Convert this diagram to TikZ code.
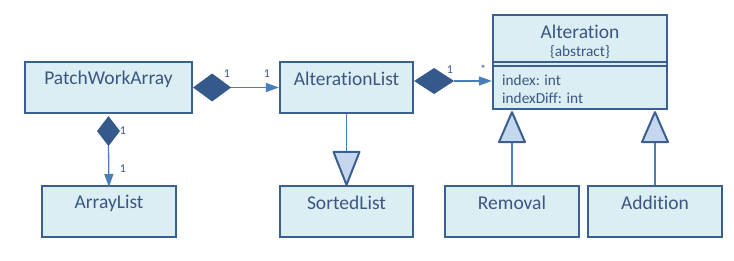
\documentclass[tikz,border=0pt]{standalone}
\usepackage{fontspec}
\setmainfont[Ligatures=NoCommon]{Carlito}
\usetikzlibrary{arrows.meta,calc}
\definecolor{bord}{HTML}{3B5F8F}
\definecolor{boxfill}{HTML}{DBEEF4}
\definecolor{dia}{HTML}{36598C}
\definecolor{trif}{HTML}{C5D7EE}
\definecolor{lin}{HTML}{4A7EBB}
\definecolor{txtc}{HTML}{3B5683}
\tikzset{
  x=1pt,y=-1pt,
  cls/.style={draw=bord,fill=boxfill,line width=2.2pt,rectangle,inner sep=0pt},
  big/.style={text=txtc,font=\fontsize{19.5}{22}\selectfont,inner sep=0pt},
  small/.style={text=txtc,font=\fontsize{15.3}{18}\selectfont,inner sep=0pt},
  mult/.style={text=txtc,font=\fontsize{12}{14}\selectfont,inner sep=0pt},
  assoc/.style={draw=lin,line width=1.3pt,-{Triangle[length=13pt,width=9pt]}},
  genline/.style={draw=lin,line width=1.2pt},
  diafill/.style={fill=dia},
  trist/.style={draw=bord,fill=trif,line width=2pt,line join=round},
}
\begin{document}
\begin{tikzpicture}
\useasboundingbox (0,0) rectangle (734,261);
% boxes
\node[cls,minimum width=167pt,minimum height=51pt] (pwa) at (108.5,87.5) {};
\node[big] (pwat) at ($(pwa.north)+(0,18)$) {PatchWorkArray};
\node[cls,minimum width=133pt,minimum height=51pt] (al) at (346.5,87.5) {};
\node[big] (alt) at ($(al.north)+(0,18)$) {AlterationList};
\node[cls,minimum width=134pt,minimum height=51pt] (arr) at (109,211.5) {};
\node[big] (arrt) at ($(arr.north)+(0,18)$) {ArrayList};
\node[cls,minimum width=133pt,minimum height=51pt] (sl) at (346.5,211.5) {};
\node[big] (slt) at ($(sl.north)+(0,18)$) {SortedList};
\node[cls,minimum width=134pt,minimum height=51pt] (rem) at (512,211.5) {};
\node[big] (remt) at ($(rem.north)+(0,18)$) {Removal};
\node[cls,minimum width=134pt,minimum height=51pt] (add) at (655,211.5) {};
\node[big] (addt) at ($(add.north)+(0,18)$) {Addition};
% Alteration class
\node[cls,minimum width=174pt,minimum height=94pt] (altr) at (580,62) {};
\draw[draw=bord,line width=2pt] (altr.west |- 0,62) coordinate (s1a) -- (altr.east |- 0,62) coordinate (s1b);
\draw[draw=bord,line width=2pt] (altr.west |- 0,66) coordinate (s2a) -- (altr.east |- 0,66) coordinate (s2b);
\node[big] (altrt) at ($(altr.north)+(0,18)$) {Alteration};
\node[small] (abst) at ($(altr.north)+(0,38)$) {\{abstract\}};
\node[small,anchor=west] (f1) at (502,80) {index: int};
\node[small,anchor=west] (f2) at (502,98) {indexDiff: int};
% composition PatchWorkArray -> AlterationList
\coordinate (d1s) at (pwa.east);
\fill[diafill] (d1s) -- ++(19,-14) -- ++(19,14) coordinate (d1e) -- ++(-19,14) -- cycle;
\draw[assoc] (d1e) -- (al.west |- d1e);
\node[mult] (m1) at (227,74) {1};
\node[mult] (m2) at (267,74) {1};
% composition AlterationList -> Alteration
\coordinate (d2s) at ($(al.east)+(0,-6.5)$);
\fill[diafill] (d2s) -- ++(20,-13) -- ++(20,13) coordinate (d2e) -- ++(-20,13) -- cycle;
\draw[assoc] (d2e) -- (altr.west |- d2e);
\node[mult] (m3) at (450,70) {1};
\node[mult] (m4) at (483,69) {*};
% composition PatchWorkArray -> ArrayList
\coordinate (d3s) at ($(pwa.south)+(0,2)$);
\fill[diafill] (d3s) -- ++(11.5,15) -- ++(-11.5,15) coordinate (d3e) -- ++(-11.5,-15) -- cycle;
\draw[assoc] (d3e) -- (arr.north |- 0,187);
\node[mult] (m5) at (123,131) {1};
\node[mult] (m6) at (123,169) {1};
% generalization SortedList -> AlterationList (as drawn)
\coordinate (t1tip) at (sl.north);
\coordinate (t1base) at ($(t1tip)+(0,-33)$);
\draw[genline] (al.south) -- (t1base);
\draw[trist] (t1tip) -- ($(t1base)+(-13,0)$) -- ($(t1base)+(13,0)$) -- cycle;
% generalization Removal -> Alteration
\coordinate (t2tip) at (altr.south -| rem.north);
\coordinate (t2base) at ($(t2tip)+(0,32)$);
\draw[genline] (rem.north) -- (t2base);
\draw[trist] ($(t2tip)+(0,2)$) -- ($(t2base)+(-13,0)$) -- ($(t2base)+(13,0)$) -- cycle;
% generalization Addition -> Alteration
\coordinate (t3tip) at (altr.south -| add.north);
\coordinate (t3base) at ($(t3tip)+(0,32)$);
\draw[genline] (add.north) -- (t3base);
\draw[trist] ($(t3tip)+(0,2)$) -- ($(t3base)+(-13,0)$) -- ($(t3base)+(13,0)$) -- cycle;
\end{tikzpicture}
\end{document}
